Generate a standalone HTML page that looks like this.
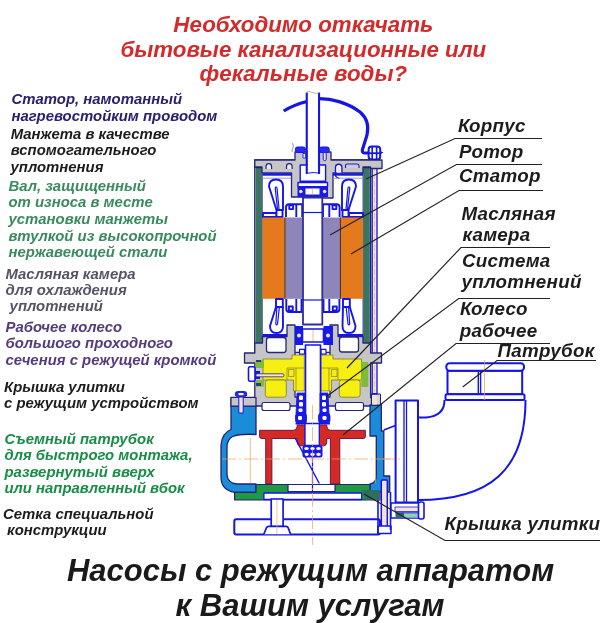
<!DOCTYPE html>
<html><head><meta charset="utf-8">
<style>
html,body{margin:0;padding:0;background:#fff;width:600px;height:623px;overflow:hidden}
svg{display:block;will-change:transform}
text{font-family:"Liberation Sans",sans-serif;font-weight:bold;font-style:italic}
.t{font-size:22.3px;fill:#d32b2b}
.l{font-size:14.9px}
.r{font-size:18.8px;letter-spacing:0.25px;fill:#1c1c1c}
.b{font-size:31px;fill:#1a1a1a}
</style></head>
<body>
<svg width="600" height="623" viewBox="0 0 600 623">
<!-- title -->
<text class="t" x="303.3" y="31.8" text-anchor="middle">Необходимо откачать</text>
<text class="t" x="303.3" y="56.8" text-anchor="middle">бытовые канализационные или</text>
<text class="t" x="303.3" y="80.5" text-anchor="middle">фекальные воды?</text>

<!-- left labels -->
<g class="l">
<text x="11.5" y="104" fill="#282070">Статор, намотанный</text>
<text x="11.4" y="120.6" fill="#282070">нагревостойким проводом</text>
<text x="10.7" y="138.7" fill="#1c1c1c">Манжета в качестве</text>
<text x="10.7" y="155.4" fill="#1c1c1c">вспомогательного</text>
<text x="10.5" y="171.5" fill="#1c1c1c">уплотнения</text>
<text x="8.5" y="190.5" fill="#3a8a60">Вал, защищенный</text>
<text x="8.5" y="207.3" fill="#3a8a60">от износа в месте</text>
<text x="8.5" y="223.9" fill="#3a8a60">установки манжеты</text>
<text x="8.5" y="240.5" fill="#3a8a60">втулкой из высокопрочной</text>
<text x="8.5" y="257" fill="#3a8a60">нержавеющей стали</text>
<text x="5.5" y="278.6" fill="#545465">Масляная камера</text>
<text x="5.5" y="294.9" fill="#545465">для охлаждения</text>
<text x="9.6" y="311.2" fill="#545465">уплотнений</text>
<text x="5.5" y="331.6" fill="#553a7c">Рабочее колесо</text>
<text x="5.5" y="348.3" fill="#553a7c">большого проходного</text>
<text x="5.5" y="364.8" fill="#553a7c">сечения с режущей кромкой</text>
<text x="4" y="391.9" fill="#1c1c1c">Крышка улитки</text>
<text x="4" y="407.9" fill="#1c1c1c">с режущим устройством</text>
<text x="4.5" y="443.8" fill="#188d46">Съемный патрубок</text>
<text x="4.5" y="460.1" fill="#188d46">для быстрого монтажа,</text>
<text x="4.5" y="476.8" fill="#188d46">развернутый вверх</text>
<text x="4.5" y="493.1" fill="#188d46">или направленный вбок</text>
<text x="3" y="518.6" fill="#1c1c1c">Сетка специальной</text>
<text x="7.1" y="534.8" fill="#1c1c1c">конструкции</text>
</g>

<!-- right labels -->
<g class="r">
<text x="458" y="132">Корпус</text>
<text x="459" y="157.6">Ротор</text>
<text x="459" y="182.3">Статор</text>
<text x="461.5" y="219.8">Масляная</text>
<text x="462.5" y="241">камера</text>
<text x="462" y="267.2">Система</text>
<text x="461.5" y="288.2">уплотнений</text>
<text x="460" y="315.3">Колесо</text>
<text x="459.7" y="337">рабочее</text>
<text x="497.5" y="356.8">Патрубок</text>
<text x="444.5" y="530.3">Крышка улитки</text>
</g>

<!-- bottom -->
<text class="b" x="310.5" y="581" text-anchor="middle">Насосы с режущим аппаратом</text>
<text class="b" x="310" y="615.5" text-anchor="middle">к Вашим услугам</text>

<!-- PUMP -->
<!--PUMP-START-->
<g id="pump" stroke-linejoin="round" stroke-linecap="butt">
<!-- ===== handle ===== -->
<path d="M283.7,111 C291,106.5 299,103.5 307,101.5" stroke="#1515e6" stroke-width="3.2" fill="none"/>
<path d="M319,98.6 C332,98.5 348,103 360,112 C367,118 369,126 367,135 L362.5,149.5 Q361.5,153 365,153 L371,153" stroke="#1515e6" stroke-width="3.2" fill="none"/>

<!-- ===== motor housing walls ===== -->
<rect x="254.8" y="160" width="115.8" height="192.5" fill="#fff" stroke="#24247e" stroke-width="1.4"/>
<rect x="255.6" y="167" width="6.3" height="176" fill="#3a7560"/>
<rect x="363.3" y="167" width="6.6" height="176" fill="#3a7560"/>
<line x1="255.6" y1="167.5" x2="261.9" y2="167.5" stroke="#141460" stroke-width="1.4"/>
<line x1="363.3" y1="167.5" x2="369.9" y2="167.5" stroke="#141460" stroke-width="1.4"/>
<line x1="262.3" y1="166" x2="262.3" y2="343" stroke="#24247e" stroke-width="0.8"/>
<line x1="363" y1="166" x2="363" y2="343" stroke="#24247e" stroke-width="0.8"/>

<!-- right tie rod -->
<rect x="372.2" y="150" width="4.8" height="244" fill="#f6e4d2" stroke="#1515e6" stroke-width="1.3"/>
<line x1="374.6" y1="165" x2="374.6" y2="392" stroke="#f0a878" stroke-width="0.6" stroke-dasharray="6,2"/>
<!-- rod top nut -->
<rect x="368.6" y="146.6" width="11.6" height="13" rx="3" fill="#fff" stroke="#1515e6" stroke-width="2"/>
<line x1="372.2" y1="147" x2="372.2" y2="159.5" stroke="#1515e6" stroke-width="1.6"/>
<line x1="376.6" y1="147" x2="376.6" y2="159.5" stroke="#1515e6" stroke-width="1.6"/>
<line x1="368.6" y1="153.2" x2="380.2" y2="153.2" stroke="#1515e6" stroke-width="1.8"/>
<path d="M380,151 L383.5,152.6 L380,154.2 Z" fill="#1515e6"/>
<!-- ===== top plate ===== -->
<path d="M254.8,160 H295 V152 H331 V160 H382 V168.5 H370.6 V167 H363 V173 H333 V198 H302.5 V197 H291.5 V173 H262 V167 H254.8 Z" fill="#c6c6c6" stroke="#24247e" stroke-width="1.3"/>
<!-- holes in plate -->
<path d="M266,169 v-2.5 a2.8,2.8 0 0 1 5.6,0 v2.5 M286.5,169 v-2.5 a2.8,2.8 0 0 1 5.6,0 v2.5" fill="#e8e8ff" stroke="#24247e" stroke-width="1.2"/>
<path d="M345.5,168 V165.5 Q345.5,164 347.5,164 H357 Q359,164 359,166 V168" fill="#c8c8f2" stroke="#24247e" stroke-width="1.1"/>
<path d="M335.5,172.5 v-5 a3.2,3.2 0 0 1 6.4,0 v5" fill="#fff" stroke="#1515e6" stroke-width="1.4"/>
<rect x="337.8" y="166.5" width="2" height="6" fill="#f6e4d2"/>
<path d="M336,172 q-2.5,5 3.5,6.5" fill="none" stroke="#1515e6" stroke-width="1.2"/>
<!-- under plate bands -->
<rect x="262.5" y="173.3" width="29" height="2.4" fill="#1515e6"/>
<rect x="333" y="173.3" width="30" height="2.4" fill="#1515e6"/>
<line x1="262.5" y1="178.2" x2="291.5" y2="178.2" stroke="#8080f0" stroke-width="0.8"/>
<line x1="333" y1="178.2" x2="363" y2="178.2" stroke="#8080f0" stroke-width="0.8"/>
<!-- boss bolts -->
<rect x="295.4" y="147" width="10" height="5.5" rx="2" fill="#2a2af0" stroke="#1515e6" stroke-width="1"/>
<rect x="319.5" y="147" width="9.7" height="5.5" rx="2" fill="#2a2af0" stroke="#1515e6" stroke-width="1"/>
<rect x="303" y="153.5" width="2.6" height="4.5" fill="#fff" stroke="#1515e6" stroke-width="0.9"/>
<rect x="323.2" y="152.5" width="3" height="8" rx="1.2" fill="#f6e4d2" stroke="#1515e6" stroke-width="1"/>
<path d="M292.5,143 q2,3 0,6 q-1,2 0,3" fill="none" stroke="#6060e0" stroke-width="0.7"/>
<!-- central cavity -->
<rect x="300.2" y="165" width="25.4" height="16.2" fill="#fff" stroke="#1515e6" stroke-width="1.4"/>
<rect x="298" y="182.5" width="29.5" height="4.2" fill="#fff" stroke="#1515e6" stroke-width="1.4"/>
<rect x="297.5" y="186.5" width="30.5" height="10.5" fill="#1a1ae8"/>
<rect x="305.5" y="188.5" width="14" height="6" fill="#fff"/>
<line x1="312.5" y1="188.5" x2="312.5" y2="194.5" stroke="#f0b090" stroke-width="0.8"/>
<circle cx="300.8" cy="191.5" r="1.8" fill="#f4e0e0"/>
<circle cx="324.6" cy="191.5" r="1.8" fill="#f4e0e0"/>

<!-- ===== cable pipe ===== -->
<path d="M306.8,174 V92.5 M319,92.5 V174" fill="#fff" stroke="#1515e6" stroke-width="2.2"/><rect x="307.9" y="92" width="10" height="82" fill="#fff"/><path d="M306,92.5 Q309,90.5 312.5,92.5 Q316,94.5 320,92.5" fill="none" stroke="#a0a0b0" stroke-width="0.8"/>
<path d="M307.5,173.2 Q313,172 318.5,173" fill="none" stroke="#1515e6" stroke-width="1"/>

<!-- ===== upper winding heads ===== -->
<g fill="#fff" stroke="#1515e6" stroke-width="1.9">
<path d="M276.5,210 L269,186.5 Q269,179.5 276,179.5 Q283,179.5 283,186.5 L283,210 Z"/>
<path d="M277.5,209 L275.2,188 Q276,185.5 277,188 L279,209" fill="none" stroke-width="1.2"/>
<path d="M348.5,210 L356,186.5 Q356,179.5 349,179.5 Q342,179.5 342,186.5 L342,210 Z"/>
<path d="M347.5,209 L349.8,188 Q349,185.5 348,188 L346,209" fill="none" stroke-width="1.2"/>
<rect x="263" y="213" width="13.5" height="4"/>
<rect x="349" y="213" width="14" height="4"/>
<rect x="276.5" y="210" width="6" height="7"/>
<rect x="342.5" y="210" width="6" height="7"/>
<!-- rotor end rings -->
<path d="M286,217 V207.2 Q286,204.2 289,204.2 H302.2 V217"/>
<path d="M339.6,217 V207.2 Q339.6,204.2 336.6,204.2 H323 V217"/>
<rect x="289.3" y="205.3" width="3.8" height="3.8"/>
<rect x="332.5" y="205.3" width="3.8" height="3.8"/>
<line x1="296.3" y1="204.5" x2="296.3" y2="217"/>
<line x1="329.3" y1="204.5" x2="329.3" y2="217"/>
</g>

<!-- ===== stator / rotor ===== -->
<rect x="262.5" y="217.5" width="22.7" height="81.3" fill="#e47a1c"/>
<rect x="340.3" y="217.5" width="22.7" height="81.3" fill="#e47a1c"/>
<rect x="285.2" y="217.5" width="17.3" height="81.3" fill="#8e85bb"/>
<rect x="322.5" y="217.5" width="17.8" height="81.3" fill="#8e85bb"/>
<line x1="285" y1="217.5" x2="285" y2="298.8" stroke="#3a3020" stroke-width="1"/>
<line x1="340.4" y1="217.5" x2="340.4" y2="298.8" stroke="#3a3020" stroke-width="1"/>

<!-- ===== lower winding heads ===== -->
<g fill="#fff" stroke="#1515e6" stroke-width="1.9">
<rect x="276" y="299" width="6.8" height="8"/>
<rect x="343" y="299" width="6.8" height="8"/>
<path d="M276,307 L270,326 Q270,333 276.5,333 Q283,333 283,326 L282.8,307 Z"/>
<path d="M277,306 L275.8,324 Q276.5,326 277.5,324 L279.5,306" fill="none" stroke-width="1.2"/>
<path d="M349.8,307 L355.5,326 Q355.5,333 349,333 Q342.5,333 342.5,326 L343,307 Z"/>
<path d="M348.5,306 L349.7,324 Q349,326 348,324 L346,306" fill="none" stroke-width="1.2"/>
<path d="M286.3,299 V309 Q286.3,312 289.3,312 H301.5 V299"/>
<path d="M339.4,299 V309 Q339.4,312 336.4,312 H323.5 V299"/>
<rect x="288.8" y="306.5" width="4" height="4"/>
<rect x="332.8" y="306.5" width="4" height="4"/>
<line x1="296.3" y1="299" x2="296.3" y2="312"/>
<line x1="329.3" y1="299" x2="329.3" y2="312"/>
</g>

<!-- ===== shaft (upper) ===== -->
<rect x="303" y="197.5" width="19.3" height="127" fill="#fff" stroke="#2e2e9a" stroke-width="1.8"/>
<line x1="302.5" y1="212.5" x2="322.5" y2="212.5" stroke="#1515e6" stroke-width="1.2"/>
<line x1="302.5" y1="300" x2="322.5" y2="300" stroke="#1515e6" stroke-width="1.2"/>

<!-- ===== lower housing (bearing + oil chamber) ===== -->
<path d="M295,325 H287 V336.5 H262.5 V343 H254.8 V353 H244.5 V363 H254.8 V397.5 H231 V406 H371.5 V397.5 H370.6 V363 H381.5 V353 H370.6 V343 H363 V336.5 H338 V325 H330 V397 H295 Z" fill="#c6c6c6" stroke="#24247e" stroke-width="1.3"/>
<rect x="262.5" y="334" width="24.5" height="2.6" fill="#1515e6"/>
<rect x="338" y="334" width="25" height="2.6" fill="#1515e6"/>
<!-- white cavities -->
<rect x="266.5" y="337.5" width="19.5" height="15" rx="2.5" fill="#fff" stroke="#24247e" stroke-width="1.3"/>
<rect x="339.5" y="337" width="19" height="15" rx="2.5" fill="#fff" stroke="#24247e" stroke-width="1.3"/>
<rect x="262" y="402.5" width="28" height="8" rx="2" fill="#fff" stroke="#24247e" stroke-width="1.2"/>
<rect x="335.5" y="402.5" width="28" height="8" rx="2" fill="#fff" stroke="#24247e" stroke-width="1.2"/>
<!-- yellow oil chamber -->
<g fill="#f7ef12" stroke="#6a6a30" stroke-width="0.7">
<path d="M263,359 H292 V355 H304.3 V391 H293.5 V380 H263 Z"/>
<rect x="265.3" y="380" width="21" height="17.2" rx="2.5"/>
<path d="M361.5,359 H333 V355 H321 V391 H331.5 V380 H361.5 Z"/>
<rect x="339.3" y="380" width="20.8" height="17.2" rx="2.5"/>
</g>
<g fill="none" stroke="#6a6a30" stroke-width="0.6">
<path d="M287,368 H304.3 M287,368 V380 M288.5,369.5 H294 V376.5 H288.5 Z M296,368 V391"/>
<path d="M321,368 H338 M338,368 V380 M331.5,369.5 H337 V376.5 H331.5 Z M329,368 V391"/>
</g>
<rect x="299.5" y="349.4" width="5" height="4.8" fill="#fff" stroke="#1515e6" stroke-width="1.2"/>
<rect x="321" y="349.4" width="5" height="4.8" fill="#fff" stroke="#1515e6" stroke-width="1.2"/>
<!-- lime seals -->
<rect x="255.5" y="360" width="8.5" height="8" fill="#80bb3a"/>
<rect x="255.5" y="380" width="8.5" height="6.7" fill="#80bb3a"/>
<rect x="361.3" y="362" width="7" height="25" fill="#80bb3a"/>
<rect x="256" y="383" width="5" height="3" fill="#2a3a80"/>
<rect x="256" y="360" width="5" height="2" fill="#2a3a80"/>
<!-- drain plug -->
<rect x="248.5" y="366.7" width="6.5" height="14.6" rx="1.5" fill="#fff" stroke="#1515e6" stroke-width="1.6"/>
<rect x="255" y="371" width="5" height="8" fill="#1515e6"/>
<rect x="256" y="373.8" width="28" height="3" rx="1.2" fill="#f6e4d2" stroke="#24247e" stroke-width="0.8"/>
<!-- bearing lower -->
<rect x="295" y="326" width="8" height="19" fill="#1a1ae8"/>
<rect x="323.5" y="326" width="9.5" height="19" fill="#1a1ae8"/>
<circle cx="299" cy="335.5" r="2" fill="#f4e0e0"/>
<circle cx="328" cy="335.5" r="2" fill="#f4e0e0"/>
<rect x="302.5" y="329" width="21" height="13" fill="#fff" stroke="#1515e6" stroke-width="1.6"/>
<line x1="313" y1="330" x2="313" y2="341" stroke="#f0a878" stroke-width="0.8"/>

<!-- ===== shaft (lower) ===== -->
<rect x="305.5" y="345" width="15" height="78.5" fill="#fff" stroke="#1515e6" stroke-width="1.6"/>

<!-- ===== volute ===== -->
<path d="M231,406 H256 V434.5 Q240,433.5 232.5,436.5 Q227,440 227,447 V474 Q227,483 237,484 H256 V492.3 H234.6 Q221,490 221,477 V445 Q222,433 231,429.5 Z" fill="#1a8cd8" stroke="#22227a" stroke-width="1.3"/>
<rect x="231" y="397.5" width="25" height="8.5" fill="#c6c6c6" stroke="#22227a" stroke-width="1.2"/>
<path d="M370,405 H381.3 V431 H383.8 V476 H389.7 V492 H370 V484 Q376.3,483 376.3,476 V436 H370 Z" fill="#1a8cd8" stroke="#22227a" stroke-width="1.3"/>
<rect x="371.5" y="394" width="9" height="11" fill="#d6d6d6" stroke="#22227a" stroke-width="1"/>
<rect x="372.3" y="394.5" width="4.6" height="10" fill="#f6e4d2"/>
<line x1="371.5" y1="394" x2="377.5" y2="394" stroke="#1515e6" stroke-width="1.6"/>
<!-- volute bolts -->
<rect x="235.3" y="391.6" width="11.4" height="5" rx="2.3" fill="#2626ee" stroke="#1515e6" stroke-width="1"/><rect x="238.5" y="393" width="5" height="2.2" fill="#fff"/>
<rect x="238.8" y="397" width="4.4" height="16" fill="#f6e4d2" stroke="#1515e6" stroke-width="1"/>

<!-- seal assembly around shaft -->
<g fill="#1a1ae8" stroke="#1515e6" stroke-width="0.8">
<path d="M297,393 H305 V414 H296 Z"/>
<path d="M320,393 H328 L329,414 H320 Z"/>
<rect x="295.5" y="413" width="11" height="10.5" rx="3"/>
<rect x="318.5" y="413" width="11.5" height="10.5" rx="3"/>
</g>
<g fill="#fff">
<rect x="299" y="395.5" width="4" height="4.5" rx="1.2"/><rect x="299" y="402" width="4" height="4.5" rx="1.2"/><rect x="298.5" y="408.5" width="4" height="3.5" rx="1.2"/>
<rect x="322" y="395.5" width="4" height="4.5" rx="1.2"/><rect x="322" y="402" width="4" height="4.5" rx="1.2"/><rect x="322.5" y="408.5" width="4" height="3.5" rx="1.2"/>
<rect x="298" y="416" width="4" height="4" rx="1.2"/><rect x="322.5" y="416" width="4" height="4" rx="1.2"/>
</g>
<line x1="295.5" y1="423.7" x2="330" y2="423.7" stroke="#1515e6" stroke-width="1.4"/>

<!-- ===== impeller ===== -->
<path d="M259.6,430.3 H293.5 Q297.2,430 297.2,426 V425 H305 V445.8 H300.5 Q297.2,445.8 297.2,442 V438.5 H271.9 V484 H265.7 V438.5 H261.5 Q259.6,438.5 259.6,436.5 Z" fill="#d42a23" stroke="#5a1050" stroke-width="0.9"/>
<path d="M365.4,430.3 H330.5 Q326.8,430 326.8,426 V425 H319.3 V445.8 H323.5 Q326.8,445.8 326.8,442 V438.5 H330.4 V484 H339.8 V438.5 H363.5 Q365.4,438.5 365.4,436.5 Z" fill="#d42a23" stroke="#5a1050" stroke-width="0.9"/>
<rect x="305" y="423.7" width="14.3" height="21.7" fill="#fff" stroke="#1515e6" stroke-width="1.3"/>
<!-- nut -->
<rect x="302.5" y="445.4" width="20" height="12" rx="2" fill="#1a1ae8"/>
<g fill="#fff">
<ellipse cx="306.5" cy="448.5" rx="2.3" ry="1.6"/><ellipse cx="312.5" cy="448.5" rx="2.3" ry="1.6"/><ellipse cx="318.5" cy="448.5" rx="2.3" ry="1.6"/>
<ellipse cx="306.5" cy="454.3" rx="2.3" ry="1.6"/><ellipse cx="312.5" cy="454.3" rx="2.3" ry="1.6"/><ellipse cx="318.5" cy="454.3" rx="2.3" ry="1.6"/>
</g>
<!-- cutter line -->
<path d="M295.2,438.2 L319.3,483.5" stroke="#1515e6" stroke-width="1.4" fill="none"/>
<line x1="312.5" y1="457" x2="312.5" y2="500" stroke="#1515e6" stroke-width="1.2"/>

<!-- ===== bottom plate (green) ===== -->
<path d="M256,484.5 H288 V491.5 H335 V484.5 H370 V492 H380 V500 H234.6 V492.3 H256 Z" fill="#1f9a40" stroke="#22227a" stroke-width="1.2"/>
<path d="M362,490 L380,490 L380,500 L366,500 Z" fill="#2d6e5e"/>
<rect x="263.9" y="493" width="97.8" height="6.5" fill="#fff" stroke="#1515e6" stroke-width="1.3"/>
<line x1="256" y1="484.5" x2="370" y2="484.5" stroke="#22227a" stroke-width="1.2"/>
<!-- stand -->
<rect x="234.3" y="519.3" width="145.7" height="15.2" rx="2" fill="#fff" stroke="#1515e6" stroke-width="2"/>
<rect x="271.2" y="499" width="11.9" height="27.5" fill="#fff" stroke="#1515e6" stroke-width="1.7"/>
<path d="M263.8,534.3 L266.5,527.6 Q267,526.3 268.8,526.3 H286 Q287.6,526.3 288.1,527.6 L290.6,534.3" fill="#fff" stroke="#1515e6" stroke-width="1.7"/>
<line x1="276.9" y1="500" x2="276.9" y2="534" stroke="#f0a878" stroke-width="0.7"/>
<!-- right vertical bolt -->
<rect x="381.3" y="480" width="6" height="47" rx="1" fill="#f6e4d2" stroke="#1515e6" stroke-width="1.5"/>
<rect x="378" y="526" width="13" height="7.5" fill="#fff" stroke="#1515e6" stroke-width="1.5"/>
<line x1="378" y1="500" x2="378" y2="534" stroke="#1515e6" stroke-width="1.6"/>
<line x1="390.5" y1="492" x2="390.5" y2="530" stroke="#1515e6" stroke-width="1.6"/>

<!-- ===== discharge flange + elbow ===== -->
<path d="M383.8,430 L395.5,425.5" fill="none" stroke="#1515e6" stroke-width="1.6"/>
<rect x="395.6" y="400.6" width="22.4" height="102" fill="#fff" stroke="#1515e6" stroke-width="2"/>
<line x1="404" y1="400.6" x2="404" y2="502" stroke="#1515e6" stroke-width="1.3"/>
<line x1="406.5" y1="400.6" x2="406.5" y2="502" stroke="#1515e6" stroke-width="1.3"/>
<path d="M418,417.5 H426 Q444.5,416 444.5,400 M418,500 C490,500 525.5,470 525.5,400" fill="none" stroke="#1515e6" stroke-width="2"/>
<!-- elbow top flange -->
<rect x="447.5" y="370.7" width="74.7" height="23.6" fill="#fff" stroke="#1515e6" stroke-width="2"/>
<rect x="446.3" y="363.3" width="77.7" height="7.4" rx="3.2" fill="#fff" stroke="#1515e6" stroke-width="2"/>
<rect x="445.5" y="394.3" width="79" height="5.8" rx="1.5" fill="#fff" stroke="#1515e6" stroke-width="2"/>
<line x1="478.3" y1="370.7" x2="478.3" y2="394.3" stroke="#1515e6" stroke-width="1.4"/>
<line x1="480.6" y1="370.7" x2="480.6" y2="394.3" stroke="#1515e6" stroke-width="1.4"/>
<line x1="484.5" y1="360" x2="484.5" y2="400" stroke="#f0a060" stroke-width="0.7"/>
<!-- horizontal bolt -->
<rect x="391" y="503" width="28" height="15" fill="#fff" stroke="#1515e6" stroke-width="1.5"/>
<rect x="395" y="507" width="24" height="4.5" fill="#f6e4d2" stroke="#1515e6" stroke-width="0.8"/>
<rect x="404" y="512.8" width="14" height="4.8" fill="#8fd0b0"/>
<rect x="395.5" y="512.8" width="8.5" height="4.8" fill="#2d6e5e"/>
<line x1="395.5" y1="512.8" x2="418" y2="512.8" stroke="#1515e6" stroke-width="1"/>
<rect x="418.5" y="502" width="5.5" height="17" rx="2" fill="#fff" stroke="#1515e6" stroke-width="1.6"/>

<!-- center lines -->
<g stroke="#f0a060" stroke-width="0.7" fill="none">
<line x1="312.5" y1="405" x2="312.5" y2="545" stroke-dasharray="14,3,2,3"/>
<line x1="222" y1="459" x2="400" y2="459" stroke-dasharray="14,3,2,3"/>
<line x1="250.3" y1="438" x2="250.3" y2="483"/>
<line x1="375.5" y1="437" x2="375.5" y2="483"/>
<line x1="383" y1="459" x2="395" y2="459"/>
</g>
</g>
<!--PUMP-END-->

<!-- leader lines -->
<g stroke="#222" stroke-width="1.15" fill="none">
<path d="M366,179 L455,138.5 H542"/>
<path d="M330,235 L456.4,164.5 H542"/>
<path d="M351,254 L459,190.5 H543"/>
<path d="M347,368 L461,247.5 H550"/>
<path d="M326,397 L458.7,298.5 H550"/>
<path d="M343,435 L456,343.5 H550"/>
<path d="M462.7,387 L497,360.5 H596"/>
<path d="M364,494 L445,540.5 H600"/>
</g>
</svg>
</body></html>
